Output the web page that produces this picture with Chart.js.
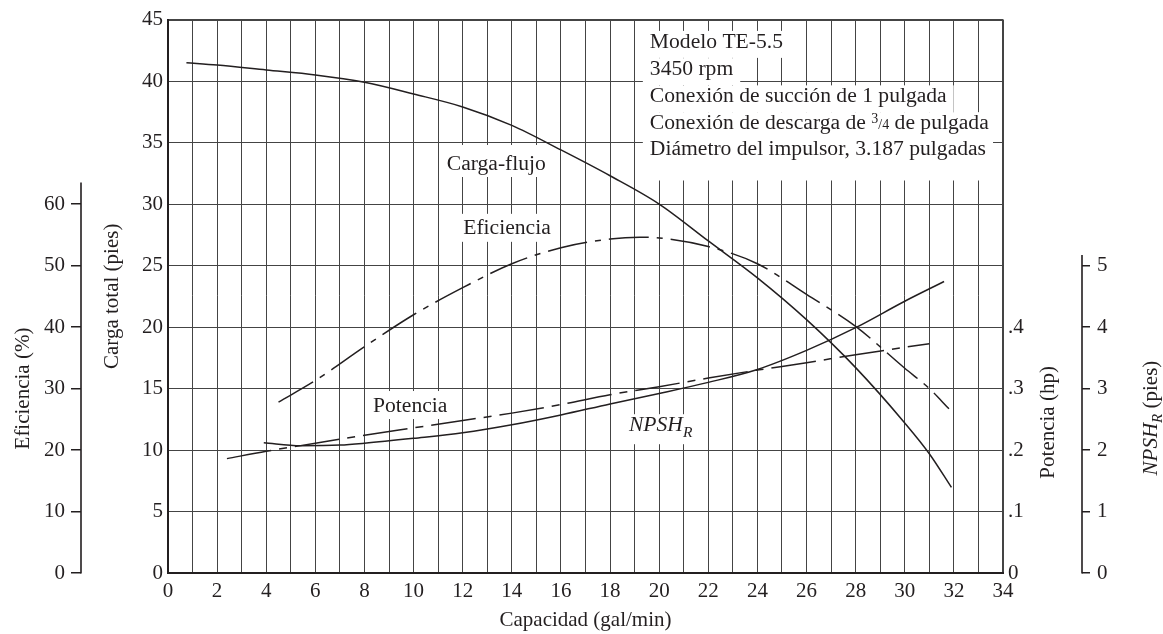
<!DOCTYPE html>
<html><head><meta charset="utf-8">
<script src="https://cdn.jsdelivr.net/npm/chart.js@4.4.1/dist/chart.umd.min.js"></script>
<style>html,body{margin:0;padding:0;background:#fff;overflow:hidden}</style>
</head><body>
<canvas id="c" width="1163" height="634"></canvas>
<script>
// ---- data ----
const headQ  = [0.75, 2, 4, 6, 8, 10, 12, 14, 16, 18, 20, 22, 24, 26, 28, 30, 31, 31.9];
const headFt = [41.5, 41.3, 40.9, 40.5, 39.9, 38.95, 37.9, 36.4, 34.4, 32.3, 30.0, 27.0, 24.0, 20.6, 16.7, 12.2, 9.7, 6.96];
const effQ   = [4.5, 6, 8, 10, 12, 14, 16, 18, 19.2, 20, 22, 24, 26, 28, 30, 31, 31.8];
const effPct = [27.8, 31.3, 36.8, 42.0, 46.4, 50.3, 52.9, 54.3, 54.6, 54.5, 53.1, 50.3, 45.3, 40.1, 33.3, 30.0, 26.7];
const powQ   = [2.4, 4, 6, 8, 10, 12, 14, 16, 18, 20, 22, 24, 26, 28, 31];
const powHp  = [0.186, 0.198, 0.211, 0.224, 0.236, 0.248, 0.260, 0.274, 0.290, 0.303, 0.317, 0.330, 0.342, 0.355, 0.373];
const npshQ  = [3.9, 5.4, 7, 8, 10, 12, 14, 16, 18, 20, 22, 24, 26, 28, 30, 31.6];
const npshFt = [2.12, 2.07, 2.08, 2.11, 2.19, 2.28, 2.41, 2.57, 2.75, 2.92, 3.10, 3.31, 3.62, 3.99, 4.42, 4.74];

const xTitle = 'Capacidad (gal/min)';
const headTitle = 'Carga total (pies)';
const effTitle = [{t:'Eficiencia (%)'}];
const powTitle = [{t:'Potencia (hp)'}];
const npshTitle = [{t:'NPSH',i:true},{t:'R',i:true,s:0.72,dy:5},{t:' (pies)'}];

const noteLines = [
  [{t:'Modelo TE-5.5'}],
  [{t:'3450 rpm'}],
  [{t:'Conexión de succión de 1 pulgada'}],
  [{t:'Conexión de descarga de '},{t:'3',s:0.65,dy:-6},{t:'/4',s:0.65},{t:' de pulgada'}],
  [{t:'Diámetro del impulsor, 3.187 pulgadas'}]
];
const noteQ = 19.62;
const noteBase = [42.70, 40.48, 38.27, 36.09, 33.95];

const curveLabels = [
  {runs:[{t:'Carga-flujo'}], q:11.35, h:32.77, top:25, bot:7},
  {runs:[{t:'Eficiencia'}], q:12.02, h:27.58, top:20, bot:8},
  {runs:[{t:'Potencia'}], q:8.35, h:13.09, top:21, bot:7},
  {runs:[{t:'NPSH',i:true},{t:'R',i:true,s:0.72,dy:6}], q:18.77, h:11.53, top:17, bot:13}
];

const FS = 21, NS = 21.6, FAM = '"Liberation Serif", "Times New Roman", serif', INK = '#231f20';
const pts = (xs, ys) => xs.map((x, i) => ({x, y: ys[i]}));

function fontStr(r, base){ return (r.i ? 'italic ' : '') + (base * (r.s || 1)).toFixed(1) + 'px ' + FAM; }
function runsWidth(ctx, runs, base){ let w = 0; for (const r of runs){ ctx.font = fontStr(r, base); w += ctx.measureText(r.t).width; } return w; }
function drawRuns(ctx, runs, x, y, base){ for (const r of runs){ ctx.font = fontStr(r, base); ctx.fillText(r.t, x, y + (r.dy || 0)); x += ctx.measureText(r.t).width; } }
function vTitle(ctx, runs, cx, cy){
  ctx.save(); ctx.translate(cx, cy); ctx.rotate(-Math.PI/2);
  ctx.textBaseline = 'alphabetic'; ctx.fillStyle = INK;
  const w = runsWidth(ctx, runs, FS);
  drawRuns(ctx, runs, -w/2, FS*0.32, FS);
  ctx.restore();
}

const annot = {
  id: 'annot',
  beforeDatasetsDraw(chart){
    const ctx = chart.ctx, xs = chart.scales.x, ys = chart.scales.y;
    ctx.save();
    ctx.textBaseline = 'alphabetic';
    const x0 = xs.getPixelForValue(noteQ);
    ctx.fillStyle = '#fff';
    noteLines.forEach((runs, i) => {
      const b = ys.getPixelForValue(noteBase[i]);
      const w = runsWidth(ctx, runs, NS);
      const bot = i === noteLines.length - 1 ? 25 : 10;
      ctx.fillRect(x0 - 7, b - 17, w + 14, 17 + bot);
    });
    curveLabels.forEach(l => {
      const x = xs.getPixelForValue(l.q), b = ys.getPixelForValue(l.h);
      const w = runsWidth(ctx, l.runs, NS);
      ctx.fillStyle = '#fff';
      ctx.fillRect(x - 5, b - l.top, w + 10, l.top + l.bot);
    });
    ctx.fillStyle = INK;
    noteLines.forEach((runs, i) => drawRuns(ctx, runs, x0, ys.getPixelForValue(noteBase[i]), NS));
    curveLabels.forEach(l => drawRuns(ctx, l.runs, xs.getPixelForValue(l.q), ys.getPixelForValue(l.h), NS));
    ctx.restore();
  },
  afterDraw(chart){
    const ctx = chart.ctx, s = chart.scales;
    ctx.save();
    ctx.strokeStyle = INK; ctx.lineWidth = 1.6;
    ctx.beginPath();
    ctx.moveTo(s.yEff.right, s.yEff.getPixelForValue(0) + 0.5);
    ctx.lineTo(s.yEff.right, s.yEff.getPixelForValue(63.5));
    ctx.moveTo(s.yNpsh.left, s.yNpsh.getPixelForValue(0) + 0.5);
    ctx.lineTo(s.yNpsh.left, s.yNpsh.getPixelForValue(5.17));
    ctx.stroke();
    vTitle(ctx, effTitle, s.yEff.left + 22, s.yEff.getPixelForValue(30));
    vTitle(ctx, powTitle, s.yPow.left + 44, s.yPow.getPixelForValue(0.245));
    vTitle(ctx, npshTitle, s.yNpsh.left + 68, s.yNpsh.getPixelForValue(2.52));
    ctx.restore();
  }
};

const tickFont = {family: FAM, size: FS};
const line = (data, axis, dash) => ({
  data, yAxisID: axis, borderColor: INK, borderWidth: 1.5, pointRadius: 0,
  fill: false, cubicInterpolationMode: 'monotone', borderDash: dash || []
});

new Chart(document.getElementById('c'), {
  type: 'line',
  data: { datasets: [
    line(pts(headQ, headFt), 'y'),
    line(pts(effQ, effPct), 'yEff', [40, 8, 6, 8]),
    line(pts(powQ, powHp), 'yPow', [45, 8, 8, 8]),
    line(pts(npshQ, npshFt), 'yNpsh')
  ]},
  options: {
    responsive: false, animation: false, devicePixelRatio: 1,
    layout: {padding: {top: 15, left: 0, right: 0, bottom: 0}},
    plugins: {legend: {display: false}, tooltip: {enabled: false}},
    scales: {
      x: {
        type: 'linear', min: 0, max: 34,
        ticks: {stepSize: 1, autoSkip: false, maxRotation: 0, minRotation: 0, padding: 6, color: INK, font: tickFont,
                callback: v => (v % 2 === 0 ? String(v) : '')},
        grid: {color: '#444', lineWidth: c => (c.tick && c.tick.value === 34 ? 2 : 1), drawTicks: false},
        border: {color: INK, width: 2},
        title: {display: true, text: xTitle, color: INK, font: tickFont, padding: {top: 0, bottom: 1}},
        afterFit: sc => { sc.height = 61; }
      },
      y: {
        position: 'left', weight: 0, min: 0, max: 45,
        ticks: {stepSize: 5, padding: 5, color: INK, font: tickFont},
        grid: {color: '#444', lineWidth: c => (c.tick && c.tick.value === 45 ? 2 : 1), drawTicks: false},
        border: {color: INK, width: 2},
        title: {display: true, text: headTitle, color: INK, font: tickFont, padding: {top: 19, bottom: 0}},
        afterFit: sc => { sc.width = 87; }
      },
      yEff: {
        position: 'left', weight: 1, min: 0, max: 90,
        ticks: {stepSize: 10, padding: 6, color: INK, font: tickFont},
        afterBuildTicks: sc => { sc.ticks = sc.ticks.filter(t => t.value <= 60); },
        grid: {drawOnChartArea: false, drawTicks: true, tickLength: 10, color: INK, lineWidth: 1.5},
        border: {display: false},
        afterFit: sc => { sc.width = 81; }
      },
      yPow: {
        position: 'right', weight: 0, min: 0, max: 0.9,
        ticks: {stepSize: 0.1, padding: 5, color: INK, font: tickFont,
                callback: v => (Math.round(v * 10) === 0 ? '0' : '.' + Math.round(v * 10))},
        afterBuildTicks: sc => { sc.ticks = sc.ticks.filter(t => t.value <= 0.4001); },
        grid: {drawOnChartArea: false, drawTicks: false},
        border: {display: false},
        afterFit: sc => { sc.width = 79; }
      },
      yNpsh: {
        position: 'right', weight: 1, min: 0, max: 9,
        ticks: {stepSize: 1, padding: 7, color: INK, font: tickFont},
        afterBuildTicks: sc => { sc.ticks = sc.ticks.filter(t => t.value <= 5); },
        grid: {drawOnChartArea: false, drawTicks: true, tickLength: 8, color: INK, lineWidth: 1.5},
        border: {display: false},
        afterFit: sc => { sc.width = 81; }
      }
    }
  },
  plugins: [annot]
});
</script>
</body></html>
